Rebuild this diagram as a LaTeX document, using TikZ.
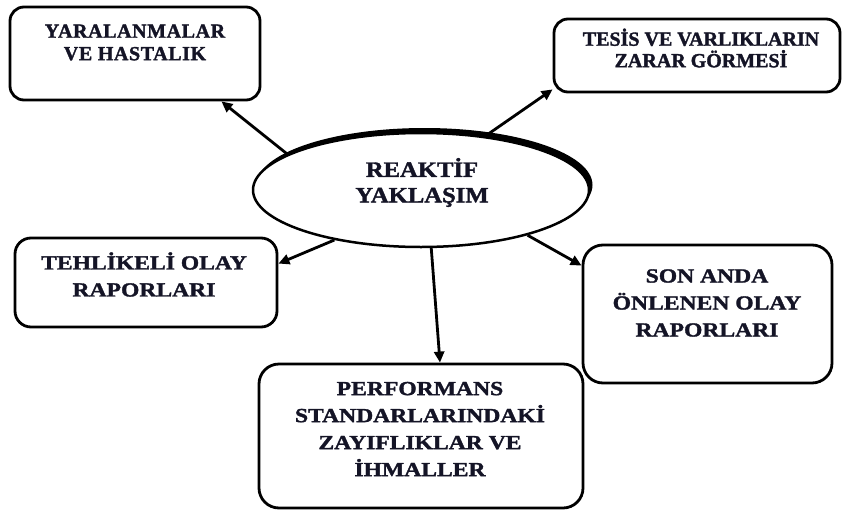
\documentclass[tikz,border=0pt]{standalone}
\usepackage{fontspec}
\setmainfont{Liberation Serif}
\newfontfamily\widebf{Liberation Serif}[UprightFont=* Bold, FakeStretch=1.18, FakeBold=1.6]
\newfontfamily\ellbf{Liberation Serif}[UprightFont=* Bold, FakeStretch=1.12, FakeBold=1.6]
\newfontfamily\spacedbf{Liberation Serif}[UprightFont=* Bold, LetterSpace=3, FakeBold=1.6]
\newfontfamily\plainbf{Liberation Serif}[UprightFont=* Bold, FakeStretch=1.0, FakeBold=1.6]
\usetikzlibrary{arrows.meta,shapes.geometric,shadows}
\definecolor{ink}{RGB}{20,20,38}

\begin{document}
\begin{tikzpicture}[x=1pt,y=-1pt,
  box/.style={draw, line width=2.8pt, rounded corners=#1, inner sep=0pt, fill=white},
  box/.default=14pt,
  lbl/.style={align=center, inner sep=0pt, text=ink,
    font=\widebf\fontsize{20}{27}\selectfont},
  conn/.style={line width=2.8pt, -{Triangle[length=11pt,width=10pt]}},
]
\useasboundingbox (0,0) rectangle (842,511);

% central ellipse with an offset dark shadow
\node[ellipse, draw, line width=2.5pt, fill=white, inner sep=0pt,
      minimum width=336pt, minimum height=114pt,
      general shadow={fill=black, shadow xshift=3.5pt, shadow yshift=5pt}]
  (e) at (421,190) {};
\node[lbl, font=\ellbf\fontsize{22}{25.5}\selectfont] (te) at (422,182.5)
  {REAKTİF\\YAKLAŞIM};

% surrounding boxes
\node[box, minimum width=250pt, minimum height=93pt] (b1) at (135,53.5) {};
\node[box, minimum width=286pt, minimum height=73pt] (b2) at (697,55.5) {};
\node[box=16pt, minimum width=262pt, minimum height=89pt] (b3) at (146,282.5) {};
\node[box=20pt, minimum width=249pt, minimum height=138pt] (b4) at (707.5,314) {};
\node[box=20pt, minimum width=324pt, minimum height=144pt] (b5) at (421,436) {};

\node[lbl, font=\spacedbf\fontsize{20}{22.5}\selectfont] (t1) at (135,42.5)
  {YARALANMALAR\\VE HASTALIK};
\node[lbl, font=\plainbf\fontsize{20}{21.5}\selectfont] (t2) at (701,48)
  {TESİS VE VARLIKLARIN\\ZARAR GÖRMESİ};
\node[lbl] (t3) at (144,274.5) {TEHLİKELİ OLAY\\RAPORLARI};
\node[lbl] (t4) at (707,303) {SON ANDA\\ÖNLENEN OLAY\\RAPORLARI};
\node[lbl] (t5) at (420,429)
  {PERFORMANS\\STANDARLARINDAKİ\\ZAYIFLIKLAR VE\\İHMALLER};

% connectors
\draw[conn] (e.165.6) -- ([xshift=-40pt]b1.south east);
\draw[conn] (e.40) -- ([yshift=4pt]b2.south west);
\draw[conn] (e.210.2) -- ([yshift=-27pt]b3.north east);
\draw[conn] (e.337.2) -- ([yshift=-22pt]b4.north west);
\draw[conn] (e.280) -- ([xshift=19pt]b5.north);
\end{tikzpicture}
\end{document}
